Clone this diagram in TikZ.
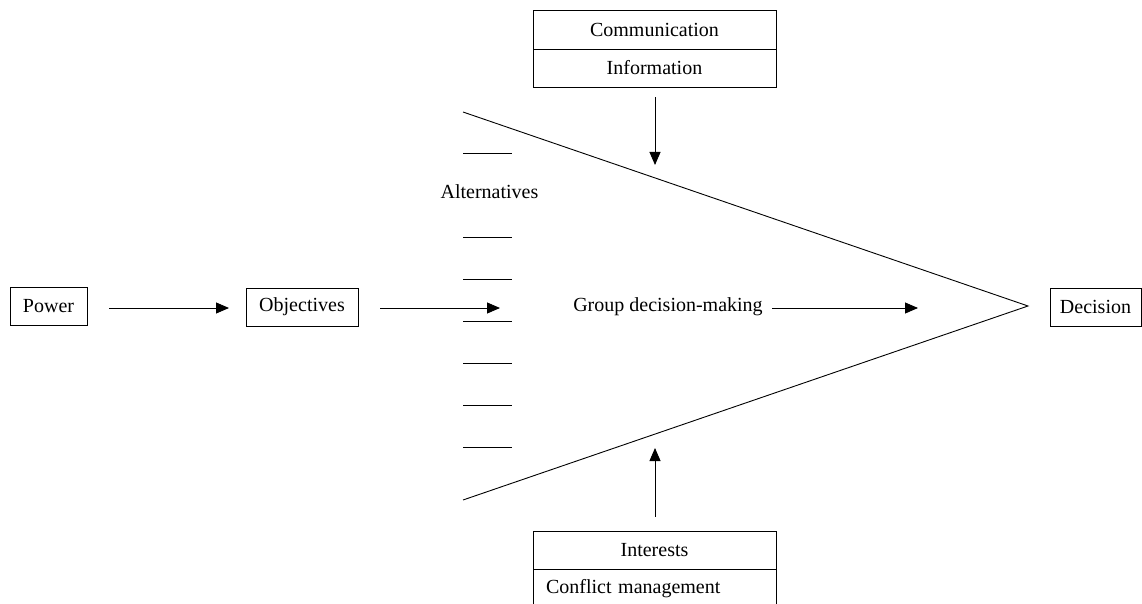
\documentclass[tikz,border=0pt]{standalone}
\usepackage{fontspec}
\setmainfont{Liberation Serif}
\usetikzlibrary{arrows.meta}
\begin{document}
\begin{tikzpicture}[x=1pt,y=-1pt,
  every node/.style={font=\fontsize{20}{23}\selectfont},
  box/.style={draw,line width=0.9pt,inner sep=0pt,minimum height=38pt},
  wide/.style={box,minimum width=243pt},
  link/.style={line width=0.9pt,-{Triangle[length=13pt,width=11pt]}},
  thin/.style={line width=0.9pt}]
\useasboundingbox (0,0) rectangle (1142,604);

% left chain
\node[box,minimum width=77pt] (power) at (48.5,306.5) {Power};
\node[box,minimum width=112pt] (obj) at (302,307) {Objectives};
\node[box,minimum width=91pt] (dec) at (1095.5,307) {Decision};

% top and bottom stacks
\node[wide,minimum height=39pt] (comm) at (654.5,29.5) {Communication};
\node[wide] (info) at (654.5,68) {Information};
\node[wide] (inter) at (654.5,550) {Interests};
\node[wide,minimum height=40pt,text width=217pt,inner xsep=13pt,align=left] (conf) at (654.5,589) {Conflict management};

% fan
\coordinate (apex) at (1028,306);
\coordinate (ftop) at (463,112);
\coordinate (fbot) at (463,500);
\draw[thin] (ftop) -- (apex) -- (fbot);
\foreach \y in {153,237,279,321,363,405,447}
  \draw[thin] (463,\y) -- (512,\y);
\node (alt) at (489.5,192) {Alternatives};
\node (gdm) at (668,307) {Group decision-making};

% arrows (free ends)
\coordinate (pwA) at (229,308);
\coordinate (inA) at (500,308);
\coordinate (outA) at (918,308);
\coordinate (downA) at (655,165);
\coordinate (upA) at (655,448);
\draw[link] ([xshift=22pt]power.east |- pwA) -- (pwA);
\draw[link] ([xshift=22pt]obj.east |- inA) -- (inA);
\draw[link] ([xshift=6pt]gdm.east |- outA) -- (outA);
\draw[link] ([yshift=-10pt]info.south -| downA) -- (downA);
\draw[link] ([yshift=14pt]inter.north -| upA) -- (upA);
\end{tikzpicture}
\end{document}
